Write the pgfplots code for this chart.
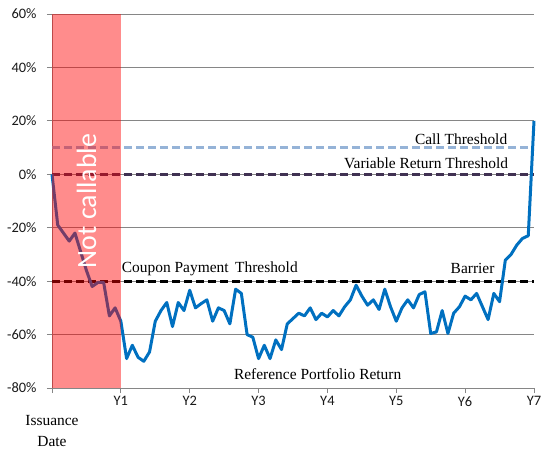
\documentclass[border=0pt]{standalone}
\usepackage{pgfplots}
\pgfplotsset{compat=1.18}
\usepackage{fontspec}
\setmainfont{Liberation Serif}
\newfontfamily\calibri{Carlito}
\definecolor{lineblue}{HTML}{0070C0}
\definecolor{callblue}{HTML}{95B3D7}
\definecolor{varpurple}{HTML}{403152}
\definecolor{gridgray}{HTML}{868686}
\begin{document}
\begin{tikzpicture}
\begin{axis}[
 scale only axis, width=482bp, height=374bp,
 xmin=0, xmax=84, ymin=-80, ymax=60,
 axis x line=bottom, axis y line=left,
 axis line style={gridgray, -, line width=0.8bp},
 xtick={0,12,...,84},
 xticklabels={{},Y1,Y2,Y3,Y4,Y5,Y6,Y7},
 ytick={-80,-60,...,60},
 yticklabels={-80\%,-60\%,-40\%,-20\%,0\%,20\%,40\%,60\%},
 tick align=outside, major tick length=5bp,
 tick style={gridgray, line width=0.8bp},
 ymajorgrids, grid style={gridgray, line width=0.8bp},
 ticklabel style={font=\calibri\fontsize{14.5}{17}\selectfont, text=black!90},
 yticklabel style={xshift=-7bp},
 clip=false,
]
\addplot[callblue, line width=2.8bp, dash pattern=on 8bp off 4bp] coordinates {(0,10) (84,10)};
\addplot[varpurple, line width=2.8bp, dash pattern=on 8bp off 4bp] coordinates {(0,0) (84,0)};
\addplot[black, line width=2.8bp, dash pattern=on 8bp off 4bp] coordinates {(0,-40) (84,-40)};
\addplot[lineblue, line width=3bp, line join=round] coordinates {
(0,0) (1,-19) (2,-22) (3,-25) (4,-22) (5,-29) (6,-36) (7,-42) (8,-40.5) (9,-40.5)
(10,-53) (11,-50) (12,-55) (13,-69) (14,-64) (15,-68.5) (16,-70) (17,-66.5) (18,-55) (19,-51)
(20,-48) (21,-57) (22,-48) (23,-51) (24,-43.4) (25,-50) (26,-48.4) (27,-47) (28,-55) (29,-50)
(30,-51) (31,-56) (32,-43) (33,-44.6) (34,-60) (35,-61) (36,-69) (37,-64) (38,-69) (39,-62)
(40,-65.6) (41,-56) (42,-54) (43,-52) (44,-53) (45,-50) (46,-54.4) (47,-52) (48,-53.4) (49,-51)
(50,-53) (51,-49.6) (52,-47) (53,-41.5) (54,-45.6) (55,-49) (56,-47) (57,-50.6) (58,-43) (59,-49.6)
(60,-55) (61,-50) (62,-47) (63,-50) (64,-45) (65,-44) (66,-59.6) (67,-59) (68,-51) (69,-59.6)
(70,-52) (71,-49.6) (72,-45.6) (73,-47) (74,-44.6) (75,-49.5) (76,-54.4) (77,-44.6) (78,-47.7) (79,-32.2)
(80,-30) (81,-26.5) (82,-24) (83,-23) (84,20)
};
\addplot[draw=none, fill=red, fill opacity=0.45] coordinates {(0,-80) (0,60) (12,60) (12,-80)} -- cycle;
\node[rotate=90, text=white, font=\calibri\fontsize{28}{30}\selectfont] at (axis cs:6,-10) {Not callable};
\node[anchor=base, font=\fontsize{15.5}{18}\selectfont] at (axis cs:71.3,11.3) {Call Threshold};
\node[anchor=base, font=\fontsize{15.5}{18}\selectfont] at (axis cs:65.2,2.2) {Variable Return Threshold};
\node[anchor=base, font=\fontsize{15.5}{18}\selectfont] at (axis cs:27.5,-36.9) {Coupon Payment\, Threshold};
\node[anchor=base, font=\fontsize{15.5}{18}\selectfont] at (axis cs:73.3,-37.2) {Barrier};
\node[anchor=base, font=\fontsize{15.5}{18}\selectfont] at (axis cs:46.3,-76.7) {Reference Portfolio Return};
\node[anchor=north, align=center, font=\fontsize{15.5}{21}\selectfont, yshift=-24bp] at (axis cs:0,-80) {Issuance\\Date};
\end{axis}
\pgfresetboundingbox
\path ([shift={(-52bp,-62bp)}]current axis.south west) rectangle ([shift={(9bp,14bp)}]current axis.north east);
\end{tikzpicture}
\end{document}
